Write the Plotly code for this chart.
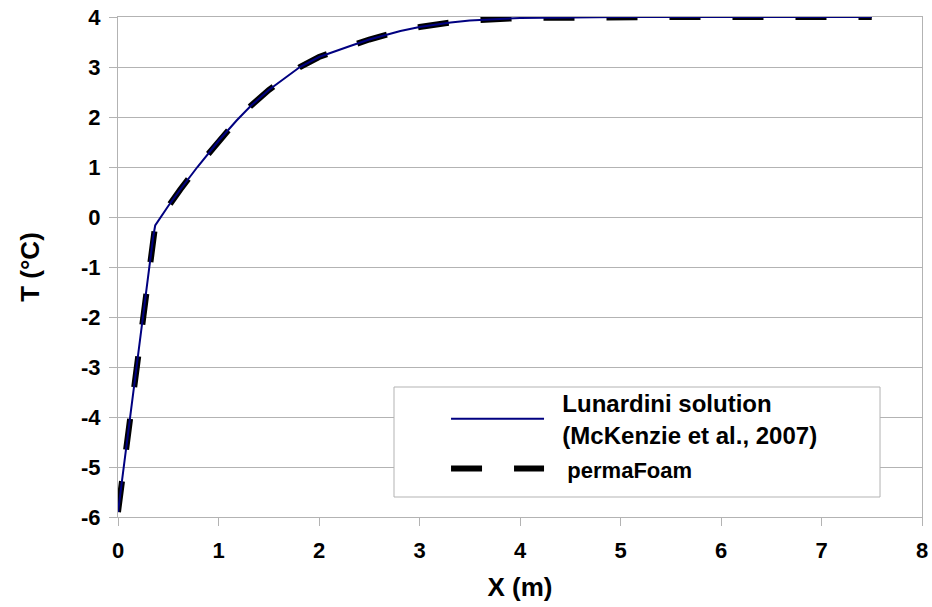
import plotly.graph_objects as go

# Lunardini analytical solution
lun_x = [0.00, 0.06, 0.12, 0.185, 0.25, 0.31, 0.35, 0.37, 0.42, 0.50, 0.62, 0.79, 1.00, 1.18,
         1.32, 1.50, 1.81, 2.00, 2.31, 2.50, 2.81, 3.00, 3.31, 3.50, 4.00, 4.50, 5.00, 5.50,
         6.00, 6.50, 7.00, 7.50]
lun_y = [-5.90, -4.95, -4.00, -3.00, -2.00, -1.05, -0.40, -0.17, -0.02, 0.22, 0.55, 1.00, 1.52, 1.93,
         2.22, 2.54, 3.00, 3.20, 3.42, 3.55, 3.72, 3.80, 3.89, 3.93, 3.98, 3.995, 4.00, 4.00,
         4.00, 4.00, 4.00, 4.00]

# permaFoam numerical result
pf_x = [0.00, 0.06, 0.12, 0.185, 0.25, 0.31, 0.35, 0.37, 0.42, 0.50, 0.62, 0.79, 1.00, 1.18,
        1.32, 1.50, 1.81, 2.00, 2.31, 2.50, 2.81, 3.00, 3.31, 3.50, 4.00, 4.50, 5.00, 5.50,
        6.00, 6.50, 7.00, 7.50]
pf_y = [-5.90, -4.95, -4.00, -3.00, -2.00, -1.05, -0.40, -0.17, -0.02, 0.22, 0.55, 1.00, 1.52, 1.93,
        2.22, 2.54, 3.00, 3.20, 3.42, 3.55, 3.72, 3.80, 3.89, 3.93, 3.98, 3.995, 4.00, 4.00,
        4.00, 4.00, 4.00, 4.00]

x_ticks = [0, 1, 2, 3, 4, 5, 6, 7, 8]
x_ticklabels = ["0", "1", "2", "3", "4", "5", "6", "7", "8"]
y_ticks = [-6, -5, -4, -3, -2, -1, 0, 1, 2, 3, 4]
y_ticklabels = ["-6", "-5", "-4", "-3", "-2", "-1", "0", "1", "2", "3", "4"]

FONT = "Liberation Sans, Arial, sans-serif"
GRID = "#b3b3b3"
NB = "\u00a0"

fig = go.Figure()
fig.add_trace(go.Scatter(
    x=pf_x, y=pf_y, mode="lines",
    name=f'<span style="font-size:22px">{NB*3}permaFoam</span>',
    line=dict(color="black", width=6, dash="31px,32px"),
    legendrank=2,
))
fig.add_trace(go.Scatter(
    x=lun_x, y=lun_y, mode="lines",
    name=f"{NB*2}Lunardini solution<br>{NB*2}(McKenzie et al., 2007)",
    line=dict(color="#000080", width=2),
    legendrank=1,
))

fig.update_layout(
    width=932, height=607,
    margin=dict(l=118, r=10, t=17, b=90, autoexpand=False),
    paper_bgcolor="white", plot_bgcolor="white",
    font=dict(family=FONT, color="black", weight="bold"),
    showlegend=True,
    legend=dict(
        x=0.408, xanchor="left", y=0.272, yanchor="top",
        bgcolor="rgba(0,0,0,0)", borderwidth=0,
        itemwidth=93,
        font=dict(family=FONT, size=24, color="black", weight="bold"),
        tracegroupgap=0,
    ),
    shapes=[dict(
        type="rect", xref="paper", yref="paper",
        x0=0.3433, x1=0.9478, y0=0.04, y1=0.26,
        line=dict(color=GRID, width=1), fillcolor="white", layer="above",
    )],
)

fig.update_xaxes(
    range=[0, 8], tickvals=x_ticks, ticktext=x_ticklabels, showgrid=False,
    showline=True, linecolor=GRID, linewidth=1, mirror=True,
    ticks="outside", ticklen=8, tickcolor=GRID,
    tickfont=dict(family=FONT, size=22, color="black", weight="bold"),
    ticklabelstandoff=6, automargin=False, ticklabeloverflow="allow",
    title=dict(text="X (m)", font=dict(family=FONT, size=26, color="black", weight="bold"), standoff=15),
    zeroline=False,
)
fig.update_yaxes(
    range=[-6, 4], tickvals=y_ticks, ticktext=y_ticklabels, showgrid=True, gridcolor=GRID, gridwidth=1,
    showline=True, linecolor=GRID, linewidth=1, mirror=True,
    ticks="outside", ticklen=8, tickcolor=GRID,
    tickfont=dict(family=FONT, size=22, color="black", weight="bold"),
    ticklabelstandoff=4, automargin=False, ticklabeloverflow="allow",
    title=dict(text="T (°C)", font=dict(family=FONT, size=26, color="black", weight="bold"), standoff=33),
    zeroline=False,
)

fig.write_html(
    "out.html",
    config={"displayModeBar": False},
    post_script="document.body.style.margin='0';document.body.style.overflow='hidden';",
)
